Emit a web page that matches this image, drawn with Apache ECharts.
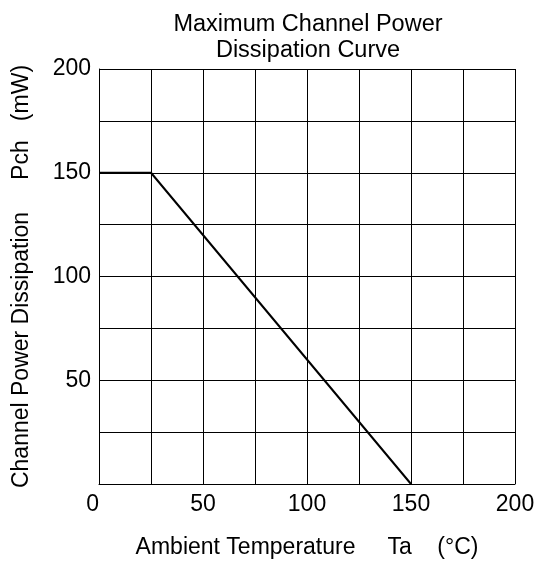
<!DOCTYPE html>
<html><head><meta charset="utf-8">
<script src="https://cdn.jsdelivr.net/npm/echarts@6/dist/echarts.min.js"></script>
<style>html,body{margin:0;padding:0;background:#fff}#c{width:539px;height:561px}</style>
</head><body><div id="c"></div>
<script>
const temps = [0, 25, 150];
const power = [150, 150, 0];
const xTicks = [0, 50, 100, 150, 200];
const yTicks = [50, 100, 150, 200];

const chart = echarts.init(document.getElementById('c'));
const font = 'Liberation Sans, Arial, sans-serif';
chart.setOption({
  animation: false,
  backgroundColor: '#fff',
  title: {
    text: 'Maximum Channel Power\nDissipation Curve',
    left: 303, top: 7, textAlign: 'center',
    textStyle: {fontFamily: font, fontSize: 23.5, fontWeight: 'normal', color: '#000', lineHeight: 26}
  },
  grid: {left: 99, top: 69, right: 24, bottom: 77, containLabel: false, outerBoundsMode: 'none'},
  xAxis: {
    type: 'value', min: 0, max: 200, interval: 25,
    name: 'Ambient Temperature     Ta    (\u00B0C)', nameLocation: 'middle', nameGap: 52,
    nameTextStyle: {fontFamily: font, fontSize: 23, color: '#000'},
    axisLine: {show: true, lineStyle: {color: '#000', width: 1}},
    axisTick: {show: false},
    splitLine: {show: true, lineStyle: {color: '#000', width: 1}},
    axisLabel: {
      fontFamily: font, fontSize: 23, color: '#000', margin: 9,
      alignMinLabel: 'right',
      formatter: v => xTicks.includes(v) ? String(v) : ''
    }
  },
  yAxis: {
    type: 'value', min: 0, max: 200, interval: 25,
    name: 'Channel Power Dissipation     Pch   (mW)', nameLocation: 'middle', nameGap: 66, nameRotate: 90,
    nameTextStyle: {fontFamily: font, fontSize: 23, color: '#000'},
    axisLine: {show: true, lineStyle: {color: '#000', width: 1}},
    axisTick: {show: false},
    splitLine: {show: true, lineStyle: {color: '#000', width: 1}},
    axisLabel: {
      fontFamily: font, fontSize: 23, color: '#000', margin: 8,
      padding: [5, 0, 0, 0],
      formatter: v => yTicks.includes(v) ? String(v) : ''
    }
  },
  series: [{
    type: 'line',
    data: temps.map((t, i) => [t, power[i]]),
    showSymbol: false,
    lineStyle: {color: '#000', width: 2},
    clip: false
  }]
});
</script></body></html>
